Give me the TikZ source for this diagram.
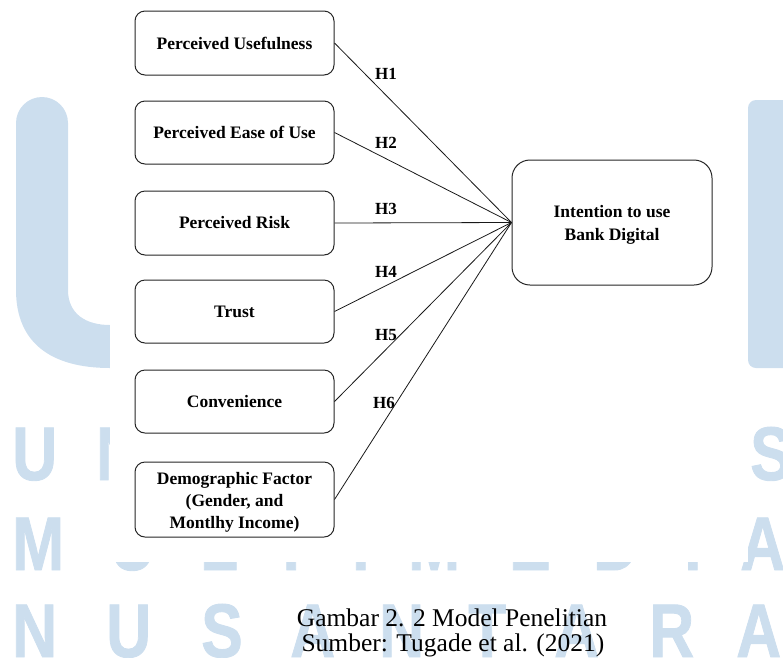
\documentclass[tikz,border=0pt]{standalone}
\usepackage{fontspec}
\setmainfont{Liberation Serif}
\newfontfamily\wmfont[BoldFeatures={FakeBold=1.2}]{Liberation Sans}
\definecolor{wm}{RGB}{204,222,238}
\newcommand{\wmchar}[1]{\scalebox{0.82}[1]{#1}}
\begin{document}
\begin{tikzpicture}[x=1pt,y=-1pt,
  factor/.style={draw=black!85, line width=1pt, rounded corners=10pt,
    minimum width=199pt, align=center, inner sep=0pt,
    font=\fontsize{17.5}{22}\selectfont\bfseries},
  link/.style={line width=0.8pt, draw=black!90},
  hlab/.style={inner sep=0pt, font=\fontsize{17}{20}\selectfont\bfseries},
  wml/.style={text=wm, inner sep=0pt, anchor=base west,
    font=\wmfont\bfseries\fontsize{76}{76}\selectfont},
  captext/.style={inner sep=0pt, anchor=base, font=\fontsize{25.5}{26}\selectfont}]
\useasboundingbox (0,0) rectangle (783,657);
\clip (0,0) rectangle (783,657);
% ---- watermark ----
\fill[wm] (16,290) -- (16,123) arc[start angle=180,end angle=360,radius=26]
  -- (68,290) .. controls (68,314) and (86,325) .. (110,325)
  -- (110,368) .. controls (50,368) and (16,342) .. (16,290) -- cycle;
\fill[wm, rounded corners=8pt] (748,100) rectangle (800,368);
% row 1
\node[wml] (w1a) at (12,480) {\wmchar{U}};
\node[wml] (w1b) at (96,480) {\wmchar{N}};
\node[wml] (w1c) at (750,480) {\wmchar{S}};
% row 2
\node[wml] (w2a) at (12,570) {\wmchar{M}};
\node[wml] (w2b) at (110,570) {\wmchar{U}};
\node[wml] (w2c) at (200,570) {\wmchar{L}};
\node[wml] (w2d) at (272,570) {\wmchar{T}};
\node[wml] (w2e) at (352,570) {\wmchar{I}};
\node[wml] (w2f) at (408,570) {\wmchar{M}};
\node[wml] (w2g) at (509,570) {\wmchar{E}};
\node[wml] (w2h) at (593,570) {\wmchar{D}};
\node[wml] (w2i) at (684,570) {\wmchar{I}};
\node[wml] (w2j) at (740,570) {\wmchar{A}};
% row 3
\node[wml] (w3a) at (12,657) {\wmchar{N}};
\node[wml] (w3b) at (106,657) {\wmchar{U}};
\node[wml] (w3c) at (201,657) {\wmchar{S}};
\node[wml] (w3d) at (290,657) {\wmchar{A}};
\node[wml] (w3e) at (379,657) {\wmchar{N}};
\node[wml] (w3f) at (468,657) {\wmchar{T}};
\node[wml] (w3g) at (554,657) {\wmchar{A}};
\node[wml] (w3h) at (649,657) {\wmchar{R}};
\node[wml] (w3i) at (736,657) {\wmchar{A}};
\fill[white] (110,0) rectangle (748,562);
% ---- diagram ----
\node[factor, minimum height=64pt] (pu) at (234.5,43) {Perceived Usefulness};
\node[factor, minimum height=63pt] (pe) at (234.5,132.5) {Perceived Ease of Use};
\node[factor, minimum height=64pt] (pr) at (234.5,223) {Perceived Risk};
\node[factor, minimum height=63pt] (tr) at (234.5,311.5) {Trust};
\node[factor, minimum height=63pt] (cv) at (234.5,401.5) {Convenience};
\node[factor, minimum height=75pt] (df) at (234.5,499.5) {\rule{0pt}{17pt}Demographic Factor\\(Gender, and\\Montlhy Income)};
\node[factor, rounded corners=18pt, minimum width=200pt, minimum height=125pt,
  font=\fontsize{17.5}{23}\selectfont\bfseries] (iu) at (612,222.5) {\rule{0pt}{17pt}Intention to use\\Bank Digital};
\foreach \s in {pu,pe,pr,tr,cv,df} \draw[link] (\s.east) -- (iu.west);
\node[hlab] (h1) at (386,74) {H1};
\node[hlab] (h2) at (386,143) {H2};
\node[hlab] (h3) at (386,209) {H3};
\node[hlab] (h4) at (386,272) {H4};
\node[hlab] (h5) at (386,335) {H5};
\node[hlab] (h6) at (384,403) {H6};
\node[captext] (c1) at (452,626) {Gambar 2. 2 Model Penelitian};
\node[captext] (c2) at (453,651) {Sumber: Tugade et al. (2021)};
\end{tikzpicture}
\end{document}
